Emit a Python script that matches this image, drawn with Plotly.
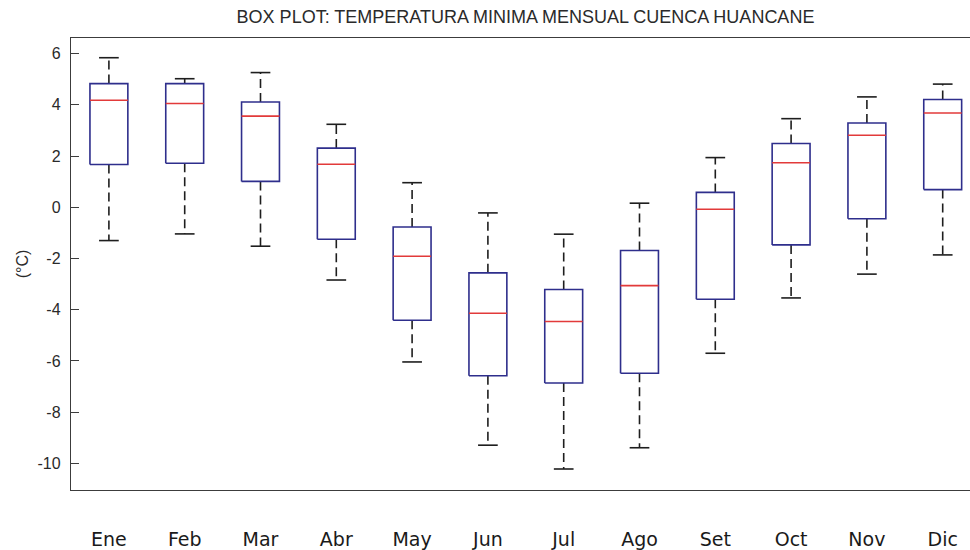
import plotly.graph_objects as go

# Monthly minimum temperature statistics (°C), Huancané basin
months = ["Ene", "Feb", "Mar", "Abr", "May", "Jun", "Jul", "Ago", "Set", "Oct", "Nov", "Dic"]
whisker_low = [-1.30, -1.04, -1.52, -2.84, -6.04, -9.29, -10.22, -9.39, -5.70, -3.54, -2.61, -1.86]
q1 = [1.67, 1.72, 1.01, -1.25, -4.41, -6.58, -6.86, -6.48, -3.59, -1.47, -0.45, 0.69]
median = [4.18, 4.05, 3.56, 1.68, -1.91, -4.14, -4.46, -3.06, -0.08, 1.74, 2.81, 3.68]
q3 = [4.83, 4.83, 4.11, 2.31, -0.77, -2.56, -3.21, -1.69, 0.58, 2.49, 3.29, 4.21]
whisker_high = [5.84, 5.02, 5.26, 3.24, 0.96, -0.22, -1.05, 0.16, 1.94, 3.46, 4.31, 4.81]
y_ticks = [6, 4, 2, 0, -2, -4, -6, -8, -10]
y_tick_text = ["6", "4", "2", "0", "-2", "-4", "-6", "-8", "-10"]

positions = list(range(1, len(months) + 1))
box_half = 0.25   # box width of 0.5 in category units
cap_half = 0.13

BLUE = "#2e2e8c"
RED = "#e23a3a"
BLACK = "#1e1e1e"
AXIS = "#3c3c3c"
TEXT = "#2a2a2a"

box_x, box_y = [], []
med_x, med_y = [], []
wh_x, wh_y = [], []
cap_x, cap_y = [], []
for p, lo, a, m, b, hi in zip(positions, whisker_low, q1, median, q3, whisker_high):
    box_x += [p - box_half, p + box_half, p + box_half, p - box_half, p - box_half, None]
    box_y += [a, a, b, b, a, None]
    med_x += [p - box_half, p + box_half, None]
    med_y += [m, m, None]
    wh_x += [p, p, None, p, p, None]
    wh_y += [b, hi, None, a, lo, None]
    cap_x += [p - cap_half, p + cap_half, None, p - cap_half, p + cap_half, None]
    cap_y += [hi, hi, None, lo, lo, None]

fig = go.Figure()
fig.add_trace(go.Scatter(x=wh_x, y=wh_y, mode="lines",
                         line=dict(color=BLACK, width=1.6, dash="9px,5px"),
                         hoverinfo="skip", showlegend=False))
fig.add_trace(go.Scatter(x=cap_x, y=cap_y, mode="lines",
                         line=dict(color=BLACK, width=1.6),
                         hoverinfo="skip", showlegend=False))
fig.add_trace(go.Scatter(x=box_x, y=box_y, mode="lines",
                         line=dict(color=BLUE, width=1.6),
                         hoverinfo="skip", showlegend=False))
fig.add_trace(go.Scatter(x=med_x, y=med_y, mode="lines",
                         line=dict(color=RED, width=1.6),
                         hoverinfo="skip", showlegend=False))

fig.update_layout(
    width=970, height=550,
    margin=dict(l=71, r=0, t=38, b=60),
    paper_bgcolor="white", plot_bgcolor="white",
    title=dict(text="BOX PLOT: TEMPERATURA MINIMA MENSUAL CUENCA HUANCANE",
               x=(71 + 980) / 2 / 970, xanchor="center", y=1 - 17 / 550, yanchor="middle",
               font=dict(family="Liberation Sans, Arial", size=18, color=TEXT)),
    xaxis=dict(range=[0.5, 0.5 + 899 / 75.8], tickvals=positions, ticktext=months,
               showgrid=False, zeroline=False, showline=True, linecolor=AXIS, linewidth=1.4,
               mirror=True, ticks="", ticklabelstandoff=32,
               tickfont=dict(family="Century Gothic, URW Gothic, DejaVu Sans", size=19, color="#1a1a1a")),
    yaxis=dict(range=[-11.04, 6.61], tickvals=y_ticks, ticktext=y_tick_text,
               showgrid=False, zeroline=False, showline=True, linecolor=AXIS, linewidth=1.4,
               ticks="inside", ticklen=8, tickwidth=1.2, tickcolor=AXIS, ticklabelstandoff=6,
               tickfont=dict(family="Liberation Sans, Arial", size=16, color=TEXT),
               title=dict(text="(°C)", standoff=4,
                          font=dict(family="Liberation Sans, Arial", size=16, color=TEXT))),
)

fig.write_html("out.html")
